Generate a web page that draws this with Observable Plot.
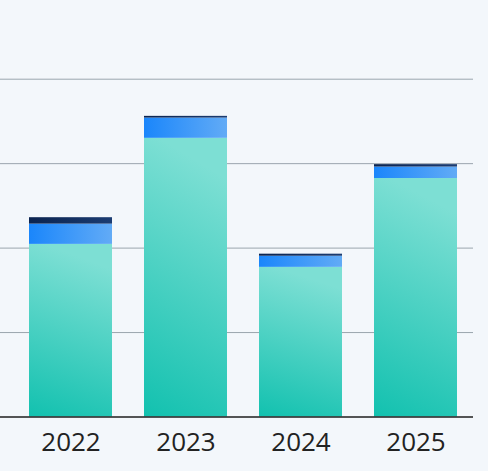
<!DOCTYPE html>
<html>
<head>
<meta charset="utf-8">
<script src="https://cdn.jsdelivr.net/npm/d3@7"></script>
<script src="https://cdn.jsdelivr.net/npm/@observablehq/plot@0.6"></script>
<style>
  html, body { margin: 0; padding: 0; background: #f3f7fb; }
  #chart { width: 488px; height: 471px; overflow: hidden; }
</style>
</head>
<body>
<div id="chart"></div>
<script>
const years = ["2022", "2023", "2024", "2025"];
const series = ["base", "mid", "top"];
const baseValues = [51.1, 82.5, 44.3, 70.6];
const midValues = [6.0, 6.0, 3.3, 3.4];
const topValues = [1.9, 0.5, 0.6, 0.7];
const gridTicks = [25, 50, 75, 100];

const gradIds = {base: "url(#gBase)", mid: "url(#gMid)", top: "url(#gTop)"};
const valuesBySeries = {base: baseValues, mid: midValues, top: topValues};
const rows = [];
years.forEach((yr, i) => {
  series.forEach(s => rows.push({year: yr, series: s, value: valuesBySeries[s][i]}));
});

function defs() {
  const ns = "http://www.w3.org/2000/svg";
  const d = document.createElementNS(ns, "defs");
  const make = (id, x1, y1, x2, y2, stops) => {
    const g = document.createElementNS(ns, "linearGradient");
    g.setAttribute("id", id);
    g.setAttribute("x1", x1); g.setAttribute("y1", y1);
    g.setAttribute("x2", x2); g.setAttribute("y2", y2);
    stops.forEach(([o, c]) => {
      const s = document.createElementNS(ns, "stop");
      s.setAttribute("offset", o);
      s.setAttribute("stop-color", c);
      g.appendChild(s);
    });
    d.appendChild(g);
  };
  make("gBase", 0, 1, 0.18, 0, [[0, "#12c1af"], [1, "#7ddfd4"]]);
  make("gMid", 0, 0, 1, 0, [[0, "#1a86fb"], [1, "#62abf6"]]);
  make("gTop", 0, 0, 1, 0, [[0, "#0b2450"], [1, "#1b3c72"]]);
  return d;
}

const plot = Plot.plot({
  width: 488,
  height: 471,
  marginLeft: 0,
  marginRight: 15,
  marginTop: 78.7,
  marginBottom: 54.5,
  style: {background: "#f3f7fb", fontFamily: "'Open Sans', 'Noto Sans', sans-serif", color: "#222"},
  x: {domain: years, range: [12, 473], paddingInner: 0.28, paddingOuter: 0.14, label: null},
  y: {domain: [0, 100], axis: null},
  color: {type: "identity"},
  marks: [
    defs,
    Plot.ruleY(gridTicks, {stroke: "#9aa5ae", strokeWidth: 1}),
    Plot.barY(rows, {x: "year", y: "value", fill: d => gradIds[d.series], inset: 0}),
    Plot.ruleY([0], {stroke: "#1e1e1e", strokeWidth: 1.4}),
    Plot.axisX({tickSize: 0, tickPadding: 16, fontSize: 26, label: null, fill: "#222"})
  ]
});
document.getElementById("chart").appendChild(plot);
</script>
</body>
</html>
